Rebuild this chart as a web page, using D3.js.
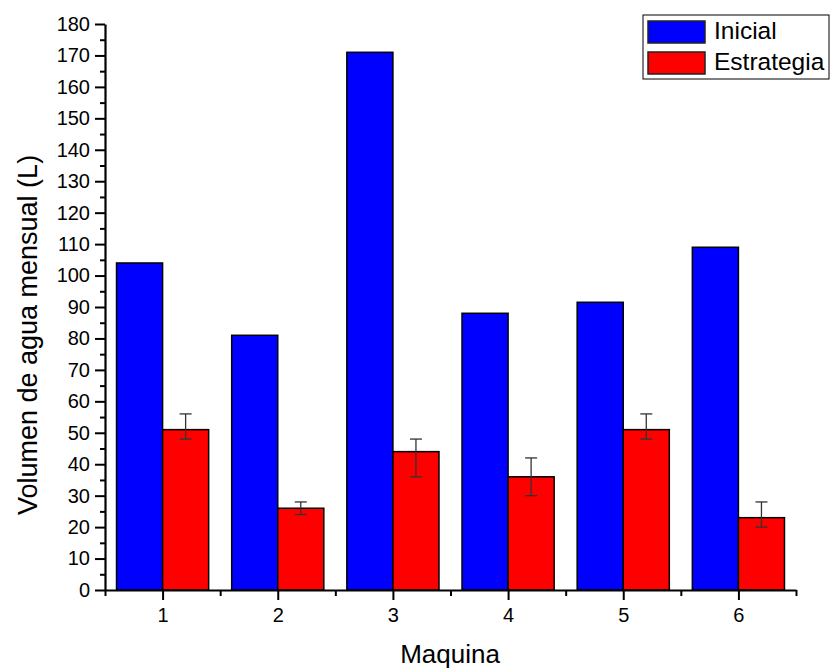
<!DOCTYPE html>
<html>
<head>
<meta charset="utf-8">
<script src="https://cdn.jsdelivr.net/npm/d3@7"></script>
<style>
  body { margin: 0; background: #fff; }
  svg { font-family: "Liberation Sans", Arial, sans-serif; }
</style>
</head>
<body>
<svg id="chart" width="831" height="671"></svg>
<script>
// data
var machines = [1, 2, 3, 4, 5, 6];
var inicial = [104, 81, 171, 88, 91.5, 109];
var estrategia = [51, 26, 44, 36, 51, 23];
var errHigh = [56, 28, 48, 42, 56, 28];
var errLow = [48, 24, 36, 30, 48, 20];
var seriesNames = ["Inicial", "Estrategia"];
var seriesColors = ["#0000ff", "#ff0000"];

var svg = d3.select("#chart");

// plot area
var padL = 105, padR = 796, padT = 24, padB = 590;

var x = d3.scaleLinear().domain([0.5, 6.5]).range([padL, padR]);
var y = d3.scaleLinear().domain([0, 180]).range([padB, padT]);
var bw = 0.4; // bar width in category units

var g = svg.append("g");

// blue bars sit left of the tick, red bars right of it
g.selectAll("rect.inicial").data(inicial).enter().append("rect")
  .attr("class", "inicial")
  .attr("x", function(d, i) { return x(machines[i] - bw); })
  .attr("y", function(d) { return y(d); })
  .attr("width", x(1) - x(1 - bw))
  .attr("height", function(d) { return y(0) - y(d); })
  .attr("fill", seriesColors[0])
  .attr("stroke", "#000").attr("stroke-width", 1.5);

g.selectAll("rect.estrategia").data(estrategia).enter().append("rect")
  .attr("class", "estrategia")
  .attr("x", function(d, i) { return x(machines[i]); })
  .attr("y", function(d) { return y(d); })
  .attr("width", x(1 + bw) - x(1))
  .attr("height", function(d) { return y(0) - y(d); })
  .attr("fill", seriesColors[1])
  .attr("stroke", "#000").attr("stroke-width", 1.5);

// error bars on the red series
var eb = g.selectAll("g.err").data(machines).enter().append("g")
  .attr("class", "err")
  .attr("stroke", "#333").attr("stroke-width", 1.3);
eb.append("line")
  .attr("x1", function(d) { return x(d + bw / 2); })
  .attr("x2", function(d) { return x(d + bw / 2); })
  .attr("y1", function(d, i) { return y(errHigh[i]); })
  .attr("y2", function(d, i) { return y(errLow[i]); });
[errHigh, errLow].forEach(function(arr) {
  eb.append("line")
    .attr("x1", function(d) { return x(d + bw / 2) - 6; })
    .attr("x2", function(d) { return x(d + bw / 2) + 6; })
    .attr("y1", function(d, i) { return y(arr[i]); })
    .attr("y2", function(d, i) { return y(arr[i]); });
});

// y axis: major every 10, minor in between
var yMajor = d3.range(0, 181, 10);
var yMinor = d3.range(5, 180, 10);
svg.append("g").attr("transform", "translate(" + padL + ",0)")
  .call(d3.axisLeft(y).tickValues(yMajor).tickSize(10).tickPadding(5).tickSizeOuter(0));
svg.append("g").attr("transform", "translate(" + padL + ",0)")
  .call(d3.axisLeft(y).tickValues(yMinor).tickSize(5).tickFormat("").tickSizeOuter(0))
  .select(".domain").remove();

// x axis: ticks at machines, minor at halves
svg.append("g").attr("transform", "translate(0," + padB + ")")
  .call(d3.axisBottom(x).tickValues(machines).tickFormat(d3.format("d"))
    .tickSize(10).tickPadding(8).tickSizeOuter(0));
svg.append("g").attr("transform", "translate(0," + padB + ")")
  .call(d3.axisBottom(x).tickValues(d3.range(0.5, 6.6, 1)).tickSize(6).tickFormat("").tickSizeOuter(0))
  .select(".domain").remove();

svg.selectAll(".domain").attr("stroke-width", 2.2);
svg.selectAll(".tick line").attr("stroke-width", 2);
svg.selectAll(".tick text").attr("font-size", 20).attr("fill", "#000")
  .attr("font-family", "Liberation Sans, Arial, sans-serif");

// axis titles
svg.append("text").attr("x", 450).attr("y", 663)
  .attr("text-anchor", "middle").attr("font-size", 26).text("Maquina");
svg.append("text").attr("transform", "translate(37,335) rotate(-90)")
  .attr("text-anchor", "middle").attr("font-size", 27).text("Volumen de agua mensual (L)");

// legend
var lg = svg.append("g").attr("transform", "translate(643,15)");
lg.append("rect").attr("width", 186).attr("height", 64)
  .attr("fill", "#fff").attr("stroke", "#000").attr("stroke-width", 1);
seriesNames.forEach(function(name, i) {
  lg.append("rect").attr("x", 5).attr("y", 6 + i * 31).attr("width", 57).attr("height", 22)
    .attr("fill", seriesColors[i]).attr("stroke", "#222").attr("stroke-width", 1.5);
  lg.append("text").attr("x", 71).attr("y", 24 + i * 31).attr("font-size", 24.5).text(name);
});
</script>
</body>
</html>
